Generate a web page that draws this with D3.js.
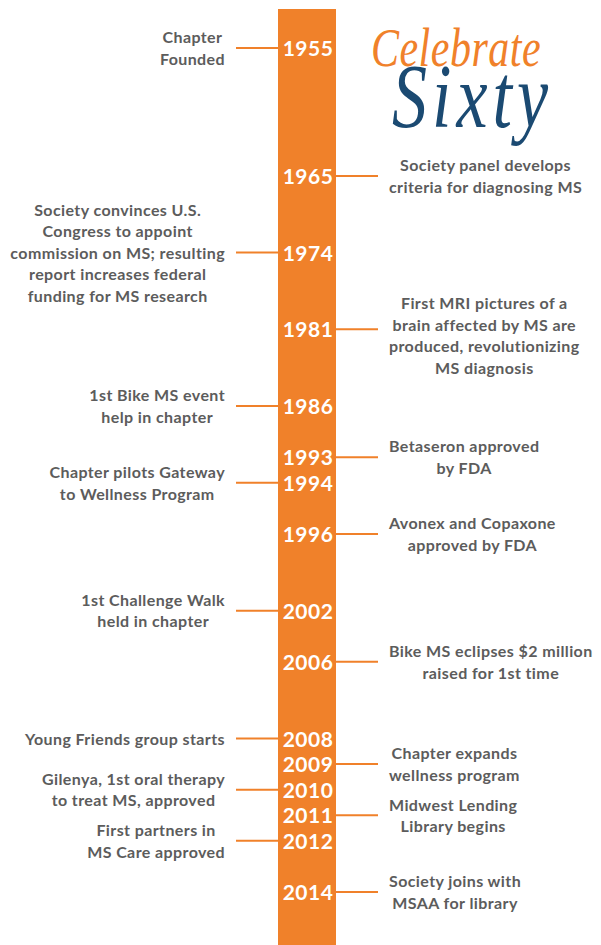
<!DOCTYPE html>
<html>
<head>
<meta charset="utf-8">
<script src="https://cdn.jsdelivr.net/npm/d3@7"></script>
<style>
  body { margin: 0; background: #fff; }
  svg { display: block; }
</style>
</head>
<body>
<script>
// timeline data
var years = ["1955","1965","1974","1981","1986","1993","1994","1996",
             "2002","2006","2008","2009","2010","2011","2012","2014"];
// row step on the bar (the timeline is not to scale)
var rowSlot = [0,5,8,11,14,16,17,19,22,24,27,28,29,30,31,33];
var sides = ["left","right","left","right","left","right","left","right",
             "left","right","left","right","left","right","left","right"];
var events = [
  ["Chapter","Founded"],
  ["Society panel develops","criteria for diagnosing MS"],
  ["Society convinces U.S.","Congress to appoint","commission on MS; resulting","report increases federal","funding for MS research"],
  ["First MRI pictures of a","brain affected by MS are","produced, revolutionizing","MS diagnosis"],
  ["1st Bike MS event","help in chapter"],
  ["Betaseron approved","by FDA"],
  ["Chapter pilots Gateway","to Wellness Program"],
  ["Avonex and Copaxone","approved by FDA"],
  ["1st Challenge Walk","held in chapter"],
  ["Bike MS eclipses $2 million","raised for 1st time"],
  ["Young Friends group starts"],
  ["Chapter expands","wellness program"],
  ["Gilenya, 1st oral  therapy","to treat MS, approved"],
  ["Midwest Lending","Library begins"],
  ["First partners in","MS Care approved"],
  ["Society joins with","MSAA for library"]
];
var titleWords = ["Celebrate","Sixty"];

var width = 601, height = 945;
var orange = "#f0812a", navy = "#1b4a72", grey = "#5c5c5c";

var svg = d3.select("body")
  .append("svg")
  .attr("width", width)
  .attr("height", height);

// bar geometry
var barX0 = 278, barX1 = 336;
var lineLen = 42;
var lh = 21.5;

var y = d3.scaleLinear()
  .domain([0, d3.max(rowSlot)])
  .range([48, 892]);

var data = years.map(function(d, i){
  return {year: d, slot: rowSlot[i], side: sides[i], lines: events[i]};
});

// orange bar
svg.append("rect")
  .attr("x", barX0)
  .attr("y", 9)
  .attr("width", barX1 - barX0)
  .attr("height", height - 9)
  .attr("fill", orange);

// connectors
svg.append("g").selectAll("line")
  .data(data)
  .join("line")
  .attr("x1", function(d){ return d.side == "left" ? barX0 - lineLen : barX1; })
  .attr("x2", function(d){ return d.side == "left" ? barX0 : barX1 + lineLen; })
  .attr("y1", function(d){ return y(d.slot); })
  .attr("y2", function(d){ return y(d.slot); })
  .attr("stroke", orange)
  .attr("stroke-width", 2);

// years on the bar
svg.append("g").selectAll("text")
  .data(data)
  .join("text")
  .attr("x", (barX0 + barX1) / 2 + 1)
  .attr("y", function(d){ return y(d.slot) + 8; })
  .attr("text-anchor", "middle")
  .attr("fill", "#fff")
  .attr("font-family", "Lato, 'Open Sans', sans-serif")
  .attr("font-weight", 700)
  .attr("font-size", 21)
  .attr("letter-spacing", 0.5)
  .text(function(d){ return d.year; });

// event texts, each block centred on its widest line
var blocks = svg.append("g").selectAll("text")
  .data(data)
  .join("text")
  .attr("text-anchor", "middle")
  .attr("fill", grey)
  .attr("font-family", "Lato, 'Open Sans', sans-serif")
  .attr("font-weight", 700)
  .attr("font-size", 16)
  .attr("letter-spacing", 0.4);

blocks.each(function(d){
  var t = d3.select(this);
  var n = d.lines.length;
  // the MRI block sits a little low in the original
  var shift = d.year == "1981" ? 6 : 0;
  var y0 = y(d.slot) - (n - 1) / 2 * lh + 6 + shift;
  d.lines.forEach(function(s, k){
    t.append("tspan").attr("y", y0 + k * lh).text(s);
  });
  var maxW = 0;
  t.selectAll("tspan").each(function(){
    maxW = Math.max(maxW, this.getComputedTextLength());
  });
  var cx = d.side == "left" ? 225 - maxW / 2 : 389 + maxW / 2;
  t.selectAll("tspan").attr("x", cx);
});

// title, one text so the two words can interlock
var title = svg.append("text")
  .attr("transform", "scale(1,1.3)")
  .attr("font-family", "'Liberation Serif', serif")
  .attr("font-style", "italic");

title.append("tspan")
  .attr("x", 371)
  .attr("y", 51)
  .attr("fill", orange)
  .attr("font-size", 42)
  .attr("letter-spacing", 0.5)
  .text(titleWords[0]);

title.append("tspan")
  .attr("x", 392)
  .attr("y", 98)
  .attr("fill", navy)
  .attr("font-size", 70)
  .attr("letter-spacing", 5)
  .text(titleWords[1]);
</script>
</body>
</html>
